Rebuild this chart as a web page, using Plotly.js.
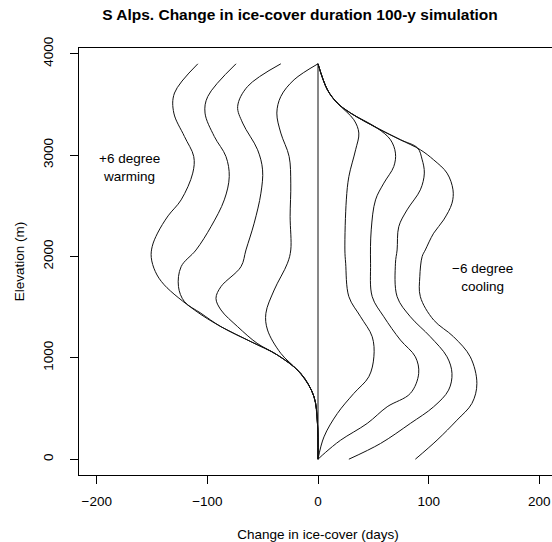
<!DOCTYPE html>
<html>
<head>
<meta charset="utf-8">
<script src="https://cdn.plot.ly/plotly-3.0.1.min.js"></script>
<style>
html,body{margin:0;padding:0;overflow:hidden;background:#fff;width:552px;height:542px;}
#chart{width:558px;height:542px;}
</style>
</head>
<body>
<div id="chart"></div>
<script>
// ---- data (days of change vs elevation in m) ----
const zeroX = [0, 0];
const zeroY = [0, 3900];

// warming curves (nearest zero first)
const warm1X = [0, -21.6, -33.6, -37.2, -33.6, -26.1, -24.6, -25.2, -24.6, -27.6, -39.6, -47.1, -45.6, -33.6, -18.6, -9.5, -3.6, -0.5, 0];
const warm1Y = [3900, 3743, 3578, 3414, 3217, 2986, 2723, 2393, 2064, 1933, 1669, 1439, 1274, 1044, 879, 748, 615, 356, 0];

const warm2X = [-33.6, -63.6, -72.6, -68.1, -54.6, -50.1, -51.6, -57.7, -65.1, -69.6, -87.7, -92.2, -87.7, -72.6, -55.0, -36.6, -15.6, -3.6, -0.5, 0];
const warm2Y = [3900, 3677, 3480, 3316, 3052, 2854, 2624, 2328, 2064, 1899, 1702, 1587, 1472, 1307, 1143, 1027, 846, 615, 356, 0];

const warm3X = [-74.1, -99.6, -102.1, -93.7, -83.2, -80.2, -84.7, -96.7, -110.2, -123.7, -126.1, -120.7, -105.7, -87.7, -60.6, -36.6, -15.6, -3.6, -0.5, 0];
const warm3Y = [3900, 3578, 3414, 3183, 2986, 2788, 2558, 2294, 2064, 1899, 1702, 1554, 1439, 1307, 1159, 1027, 846, 615, 356, 0];

const warm4X = [-108.6, -129.7, -130.3, -120.7, -112.3, -113.2, -123.7, -135.5, -145.0, -149.8, -150.7, -147.0, -139.0, -111.7, -87.7, -60.6, -36.6, -15.6, -3.6, -0.5, 0];
const warm4Y = [3900, 3612, 3414, 3183, 2986, 2822, 2558, 2400, 2230, 2100, 1990, 1850, 1720, 1472, 1307, 1159, 1027, 846, 615, 356, 0];

// cooling curves (nearest zero first)
const cool1X = [0, 8.5, 17.5, 32.4, 36.9, 34.0, 27.9, 25.6, 24.3, 25.0, 27.9, 38.5, 49.0, 50.5, 45.9, 32.4, 17.5, 5.4, 0];
const cool1Y = [3900, 3644, 3513, 3348, 3217, 3052, 2788, 2558, 2064, 1933, 1603, 1405, 1208, 1010, 813, 649, 451, 220, 0];

const cool2X = [0, 8.5, 17.5, 29.5, 53.5, 65.5, 70.0, 68.5, 59.5, 52.0, 48.1, 47.5, 49.0, 59.5, 74.5, 88.0, 91.0, 83.5, 62.5, 44.5, 20.5, 7, 0];
const cool2Y = [3900, 3644, 3513, 3414, 3266, 3151, 3019, 2887, 2723, 2558, 2262, 1933, 1603, 1405, 1175, 1010, 846, 649, 517, 353, 188, 69, 0];

const cool3X = [0, 8.5, 17.5, 29.5, 53.5, 74.5, 90.0, 94.0, 96.1, 92.5, 80.5, 73.0, 71.5, 70.0, 71.5, 83.5, 101.5, 116.6, 121.1, 118.0, 104.5, 83.5, 56.5, 27.9];
const cool3Y = [3900, 3644, 3513, 3414, 3266, 3151, 3070, 2960, 2822, 2657, 2459, 2294, 2064, 1933, 1603, 1405, 1208, 1010, 846, 681, 517, 353, 155, 0];

const cool4X = [0, 8.5, 17.5, 29.5, 53.5, 74.5, 92.5, 104.5, 116.6, 122.0, 121.1, 113.5, 104.5, 97.0, 94.1, 92.0, 92.5, 104.5, 122.5, 137.6, 143.6, 139.1, 125.6, 107.6, 88.0];
const cool4Y = [3900, 3644, 3513, 3414, 3266, 3151, 3052, 2953, 2822, 2657, 2525, 2360, 2229, 2064, 1998, 1800, 1603, 1373, 1208, 1010, 748, 550, 385, 188, 0];

const xTicks = [-200, -100, 0, 100, 200];
const xTickText = ['\u2212200', '\u2212100', '0', '100', '200'];
const yTicks = [0, 1000, 2000, 3000, 4000];
const yTickText = ['0', '1000', '2000', '3000', '4000'];

const titleText = 'S Alps. Change in ice-cover duration 100-y simulation';
const xTitle = 'Change in ice-cover (days)';
const yTitle = 'Elevation (m)';
const warmLabel = '+6 degree<br>warming';
const coolLabel = '\u22126 degree<br>cooling';

// ---- build ----
const FONT = 'Liberation Sans, Arial, Helvetica, sans-serif';
const series = [
  [zeroX, zeroY], [warm1X, warm1Y], [warm2X, warm2Y], [warm3X, warm3Y], [warm4X, warm4Y],
  [cool1X, cool1Y], [cool2X, cool2Y], [cool3X, cool3Y], [cool4X, cool4Y]
];
const traces = series.map(function (s, i) {
  return {
    x: s[0], y: s[1], type: 'scatter', mode: 'lines',
    line: {color: '#111', width: 1, shape: i === 0 ? 'linear' : 'spline', smoothing: 1},
    hoverinfo: 'skip', showlegend: false
  };
});

const layout = {
  width: 558, height: 542,
  margin: {l: 79, r: 1, t: 48, b: 67},
  paper_bgcolor: '#fff', plot_bgcolor: '#fff',
  font: {family: FONT, size: 13.5, color: '#000'},
  title: {
    text: '<b>' + titleText + '</b>',
    font: {family: FONT, size: 15.5, color: '#000'},
    xref: 'container', x: 300 / 558, xanchor: 'center',
    yref: 'container', y: 1 - 15 / 542, yanchor: 'middle'
  },
  xaxis: {
    range: [-216, 216], tickmode: 'array', tickvals: xTicks, ticktext: xTickText,
    ticks: 'outside', ticklen: 8, tickwidth: 1, tickcolor: '#000',
    ticklabelstandoff: 6,
    showline: true, linecolor: '#000', linewidth: 1, mirror: true,
    showgrid: false, zeroline: false,
    tickfont: {family: FONT, size: 13.5, color: '#000'},
    title: {text: xTitle, font: {family: FONT, size: 13.5, color: '#000'}, standoff: 22}
  },
  yaxis: {
    range: [-156, 4056], tickmode: 'array', tickvals: yTicks, ticktext: yTickText,
    ticks: 'outside', ticklen: 8, tickwidth: 1, tickcolor: '#000', tickangle: -90,
    ticklabelstandoff: 12,
    showline: true, linecolor: '#000', linewidth: 1, mirror: true,
    showgrid: false, zeroline: false,
    tickfont: {family: FONT, size: 13.5, color: '#000'},
    title: {text: yTitle, font: {family: FONT, size: 13.5, color: '#000'}, standoff: 12}
  },
  annotations: [
    {x: -170, y: 2882, xref: 'x', yref: 'y', text: warmLabel, showarrow: false,
     font: {family: FONT, size: 13.5, color: '#000'}, align: 'center'},
    {x: 149, y: 1792, xref: 'x', yref: 'y', text: coolLabel, showarrow: false,
     font: {family: FONT, size: 13.5, color: '#000'}, align: 'center'}
  ]
};

Plotly.newPlot('chart', traces, layout, {displayModeBar: false, staticPlot: true});
</script>
</body>
</html>
